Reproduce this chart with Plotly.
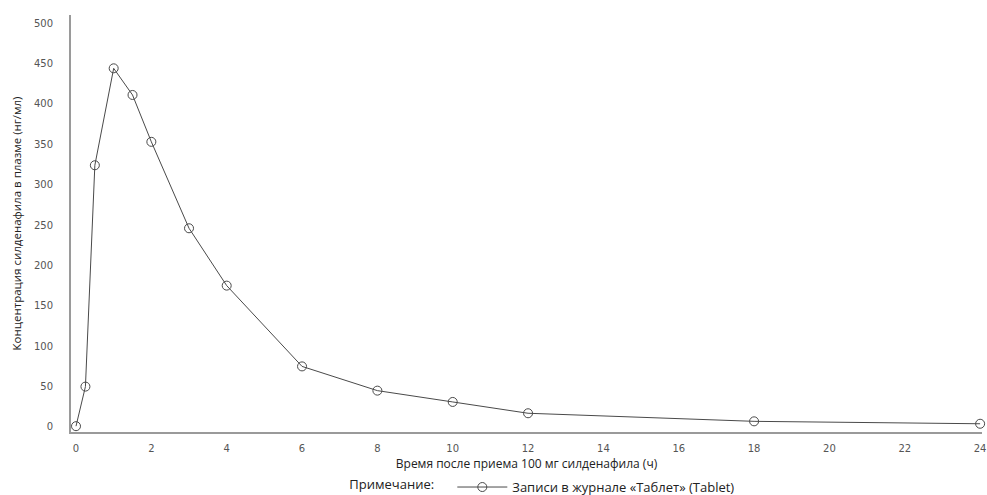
import plotly.graph_objects as go

time_h = [0, 0.25, 0.5, 1, 1.5, 2, 3, 4, 6, 8, 10, 12, 18, 24]
conc = [1, 50, 324, 444, 411, 353, 246, 175, 75, 45, 31, 17, 7, 4]
x_ticks = list(range(0, 25, 2))
y_ticks = list(range(0, 501, 50))

fig = go.Figure()
fig.add_trace(go.Scatter(
    x=time_h, y=conc, mode="lines+markers",
    name="Записи в журнале «Таблет» (Tablet)",
    line=dict(color="#4a4a4a", width=1),
    marker=dict(symbol="circle-open", size=9, color="#4a4a4a", line=dict(width=1)),
    cliponaxis=False,
))

tickfont = dict(family="DejaVu Sans", size=10, color="#555555")
fig.update_layout(
    width=987, height=495,
    margin=dict(l=71, r=5, t=15, b=63),
    paper_bgcolor="white", plot_bgcolor="white",
    showlegend=True,
    legend=dict(
        orientation="h", xref="container", yref="container",
        x=0.551, xanchor="center", y=0.016, yanchor="middle",
        title=dict(text="Примечание:   ", side="left",
                   font=dict(family="Open Sans", size=13, color="#222222")),
        font=dict(family="Open Sans", size=13, color="#222222"),
        itemwidth=50,
    ),
    xaxis=dict(
        range=[-0.133, 24.05], tickvals=x_ticks, ticktext=[str(v) for v in x_ticks],
        showgrid=False, zeroline=False, showline=True, linecolor="#9a9a9a", linewidth=2,
        ticks="", tickfont=tickfont, ticklabelstandoff=6, automargin=False,
        ticklabeloverflow="allow",
        title=dict(text="Время после приема 100 мг силденафила (ч)", standoff=8,
                   font=dict(family="Open Sans", size=12, color="#222222")),
    ),
    yaxis=dict(
        range=[-6.2, 510], tickvals=y_ticks, ticktext=[str(v) for v in y_ticks],
        showgrid=False, zeroline=False, showline=True, linecolor="#9a9a9a", linewidth=2,
        ticks="", tickfont=tickfont, ticklabelstandoff=14, automargin=False,
        title=dict(text="Концентрация силденафила в плазме (нг/мл)", standoff=10,
                   font=dict(family="Open Sans", size=11.5, color="#222222")),
    ),
)
fig.write_html(
    "out.html",
    config={"displayModeBar": False},
    post_script="document.body.style.margin='0';document.body.style.overflow='hidden';",
)
